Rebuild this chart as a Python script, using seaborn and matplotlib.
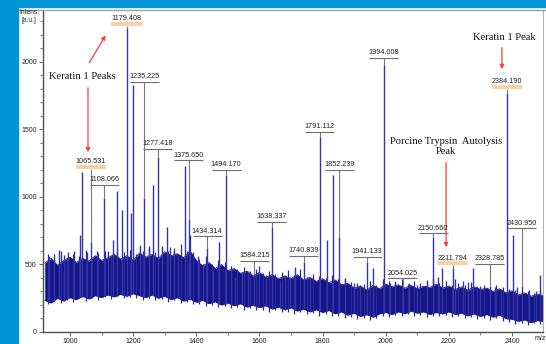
import numpy as np
import pandas as pd
import matplotlib
matplotlib.use("Agg")
import matplotlib.pyplot as plt
import seaborn as sns

# ---- spectrum data -------------------------------------------------------
# baseline band sampled every 20 m/z (lower / upper edge, a.u.)
band_mz = np.arange(920, 2501, 20)
band_low = [235, 215, 250, 230, 255, 240, 265, 245, 270, 255, 275, 260, 280, 265, 285, 270,
            255, 275, 250, 265, 240, 255, 230, 245, 220, 235, 210, 225, 200, 215, 195, 210,
            185, 200, 180, 195, 170, 185, 165, 180, 155, 170, 150, 165, 145, 160, 135, 150,
            125, 140, 115, 130, 110, 135, 145, 130, 150, 135, 155, 140, 150, 130, 145, 135,
            150, 130, 140, 120, 135, 115, 130, 110, 125, 100, 95, 80, 90, 70, 85, 75]
band_high = [510, 545, 495, 530, 555, 515, 545, 525, 565, 530, 550, 575, 540, 565, 530, 585,
             555, 575, 545, 595, 565, 580, 550, 600, 530, 490, 515, 470, 500, 455, 470, 435,
             450, 415, 440, 405, 425, 395, 415, 395, 425, 385, 405, 375, 395, 365, 385, 350,
             360, 325, 340, 310, 345, 320, 355, 335, 350, 325, 345, 320, 340, 330, 355, 325,
             340, 315, 335, 310, 335, 315, 325, 300, 320, 290, 305, 275, 290, 265, 280, 270]

# noise excursions between the band samples (every 20 m/z, offset by 10)
noise_mz = np.arange(930, 2491, 20)
noise_top = [580, 530, 600, 545, 575, 560, 610, 540, 585, 600, 560, 620, 590, 610, 575, 600,
             625, 590, 640, 600, 625, 650, 600, 590, 540, 560, 500, 535, 520, 490, 470, 485,
             450, 470, 440, 455, 430, 445, 460, 420, 470, 410, 430, 415, 400, 420, 390, 400,
             370, 360, 355, 375, 350, 390, 380, 360, 390, 355, 375, 360, 370, 395, 360, 380,
             350, 365, 345, 370, 340, 350, 335, 350, 330, 320, 310, 300, 305, 290, 310]
noise_bottom = [205, 230, 215, 240, 225, 250, 230, 255, 240, 260, 245, 265, 250, 260, 250, 240,
                255, 235, 245, 225, 235, 215, 225, 210, 205, 195, 200, 185, 190, 175, 185, 165,
                175, 160, 165, 150, 160, 145, 150, 135, 145, 130, 140, 120, 130, 115, 120, 105,
                110, 95, 100, 90, 105, 115, 110, 125, 115, 130, 120, 125, 110, 120, 115, 125,
                110, 115, 100, 110, 95, 105, 90, 100, 80, 75, 60, 70, 55, 65, 60]

# peak list (m/z, intensity)
peak_mz = [932, 948, 965, 980, 995, 1012, 1033, 1038, 1053, 1065.531, 1085, 1108.066, 1120,
           1136, 1149, 1165, 1179.408, 1193, 1199, 1222, 1235.225, 1250, 1263, 1277.418, 1290,
           1307, 1317, 1330, 1342, 1364, 1375.650, 1380, 1405, 1421, 1434.314, 1453, 1472,
           1494.170, 1510, 1523, 1545, 1565, 1584.215, 1598, 1620, 1638.337, 1665, 1680, 1697,
           1713, 1740.839, 1760, 1791.112, 1814, 1832, 1852.239, 1870, 1900, 1920, 1941.133,
           1960, 1994.008, 2013, 2030, 2054.025, 2075, 2100, 2130, 2150.660, 2165, 2178,
           2211.794, 2219, 2245, 2262, 2276, 2300, 2328.785, 2346, 2365, 2384.190, 2403,
           2415, 2430.950, 2455, 2475, 2490]
peak_int = [560, 580, 610, 570, 590, 600, 720, 1185, 590, 667, 600, 990, 600,
            680, 1045, 905, 2250, 880, 1830, 645, 990, 640, 1090, 1297, 630,
            780, 630, 600, 560, 1230, 840, 720, 560, 500, 620, 460, 667,
            1160, 470, 410, 440, 450, 420, 490, 420, 778, 385, 420, 410,
            480, 520, 400, 1445, 680, 1160, 700, 390, 360, 350, 520,
            475, 1980, 365, 380, 330, 360, 350, 385, 700, 410, 475,
            475, 390, 380, 370, 475, 340, 340, 330, 300, 1770, 720,
            330, 340, 310, 300, 420]

# labelled peaks: m/z, label height, peak top, highlighted or not
label_mz = [1065.531, 1108.066, 1179.408, 1235.225, 1277.418, 1375.650, 1434.314,
            1494.170, 1584.215, 1638.337, 1740.839, 1791.112, 1852.239, 1941.133,
            1994.008, 2054.025, 2150.660, 2211.794, 2328.785, 2384.190, 2430.950]
label_text_y = [1260, 1126, 2319, 1890, 1393, 1311, 748, 1237, 563, 852, 600, 1519,
                1237, 593, 2067, 437, 770, 548, 541, 1852, 807]
label_top = [667, 990, 2250, 990, 1297, 840, 620, 1160, 420, 778, 520, 1445, 700, 520,
             1980, 330, 700, 475, 340, 1770, 340]
label_highlight = [True, False, True, False, False, False, False, False, False, False,
                   False, False, False, False, False, False, False, True, False, True, False]

# ---- figure --------------------------------------------------------------
sns.set_style("white")
W, H = 546, 344
fig = plt.figure(figsize=(W / 100, H / 100), dpi=100)
fig.patch.set_facecolor("white")

# blue frame of the panel
blue = "#0096d6"
fig.patches.append(plt.Rectangle((0, 0), 18 / W, 1, transform=fig.transFigure,
                                 color=blue, zorder=0))
fig.patches.append(plt.Rectangle((0, 1 - 7 / H), 1, 7 / H, transform=fig.transFigure,
                                 color=blue, zorder=0))
fig.lines.append(plt.Line2D([19 / W, 1], [1 - 9.5 / H] * 2, transform=fig.transFigure,
                            color="#a0a0a0", lw=1.0))

ax = fig.add_axes([43 / W, 12 / H, 500 / W, 322 / H])
ax.set_xlim(914.5, 2498)
ax.set_ylim(0, 2385)

navy = "#15158a"
ax.fill_between(band_mz, band_low, band_high, color=navy, lw=0, zorder=2)
edges = pd.DataFrame({"mz": np.concatenate([band_mz, band_mz]),
                      "val": band_low + band_high,
                      "edge": ["low"] * len(band_mz) + ["high"] * len(band_mz)})
sns.lineplot(data=edges, x="mz", y="val", units="edge", estimator=None,
             color=navy, lw=0.6, ax=ax, zorder=2)
ax.vlines(noise_mz, noise_bottom, noise_top, color="#2a2a9c", lw=0.9, zorder=2)

# peaks start inside the band
base = np.interp(peak_mz, band_mz, band_low)
ax.vlines(peak_mz, base, peak_int, color="#3535a8", lw=1.0, zorder=3)

# peak labels
for mz, ty, top, hl in zip(label_mz, label_text_y, label_top, label_highlight):
    ax.text(mz, ty, f"{mz:.3f}", ha="center", va="center", fontsize=5.2,
            family="Liberation Sans", color="#222222", zorder=6)
    if hl:
        ax.add_patch(plt.Rectangle((mz - 48, ty - 55), 96, 30, color="#fbcfa8",
                                   lw=0, zorder=5))
        rule = ty - 55
    else:
        ax.hlines(ty - 38, mz - 46, mz + 46, color="#6e6e6e", lw=0.8, zorder=5)
        rule = ty - 38
    ax.vlines(mz, top, rule, color="#7a7a7a", lw=0.8, zorder=4)

# annotations
serif = dict(family="Liberation Serif", fontsize=7.6, color="#111111")
red = "#ff3b3b"
ax.text(1040, 1890, "Keratin 1 Peaks", ha="center", va="center", **serif)
ax.annotate("", xy=(1117, 2215), xytext=(1057, 1978),
            arrowprops=dict(arrowstyle="-|>", color=red, lw=0.9, mutation_scale=6))
ax.annotate("", xy=(1057, 1311), xytext=(1057, 1830),
            arrowprops=dict(arrowstyle="-|>", color=red, lw=0.9, mutation_scale=6))
ax.text(2375, 2178, "Keratin 1 Peak", ha="center", va="center", **serif)
ax.annotate("", xy=(2368, 1927), xytext=(2368, 2127),
            arrowprops=dict(arrowstyle="-|>", color=red, lw=0.9, mutation_scale=6))
ax.text(2191, 1375, "Porcine Trypsin  Autolysis\nPeak", ha="center", va="center",
        linespacing=1.05, **serif)
ax.annotate("", xy=(2191, 608), xytext=(2191, 1275),
            arrowprops=dict(arrowstyle="-|>", color=red, lw=0.9, mutation_scale=6))

# axes styling
ax.spines["top"].set_visible(False)
ax.spines["right"].set_color("#b0b0b0")
ax.spines["right"].set_linewidth(0.8)
for s in ["left", "bottom"]:
    ax.spines[s].set_color("#505050")
    ax.spines[s].set_linewidth(1.0)
ax.set_xticks([1000, 1200, 1400, 1600, 1800, 2000, 2200, 2400])
ax.set_xticks(np.arange(1000, 2500, 100), minor=True)
ax.set_yticks([0, 500, 1000, 1500, 2000])
ax.set_yticks(np.arange(0, 2400, 100), minor=True)
ax.tick_params(axis="both", which="major", direction="out", length=3, width=0.6,
               colors="#505050", labelsize=5, labelcolor="#222222", pad=1.5)
ax.tick_params(axis="both", which="minor", direction="out", length=2, width=0.5,
               colors="#505050")
ax.tick_params(left=True, bottom=True, which="both")
for lab in ax.get_xticklabels() + ax.get_yticklabels():
    lab.set_family("Liberation Sans")
ax.set_xlabel("")
ax.set_ylabel("")

fig.text(29 / W, 1 - 13 / H, "Intens.", ha="center", va="center", fontsize=4.8,
         family="Liberation Sans")
fig.text(29 / W, 1 - 21 / H, "[a.u.]", ha="center", va="center", fontsize=4.8,
         family="Liberation Sans")
fig.text(540 / W, 1 - 339 / H, "m/z", ha="center", va="center", fontsize=5,
         family="Liberation Sans")

fig.savefig("out.png", dpi=100)
